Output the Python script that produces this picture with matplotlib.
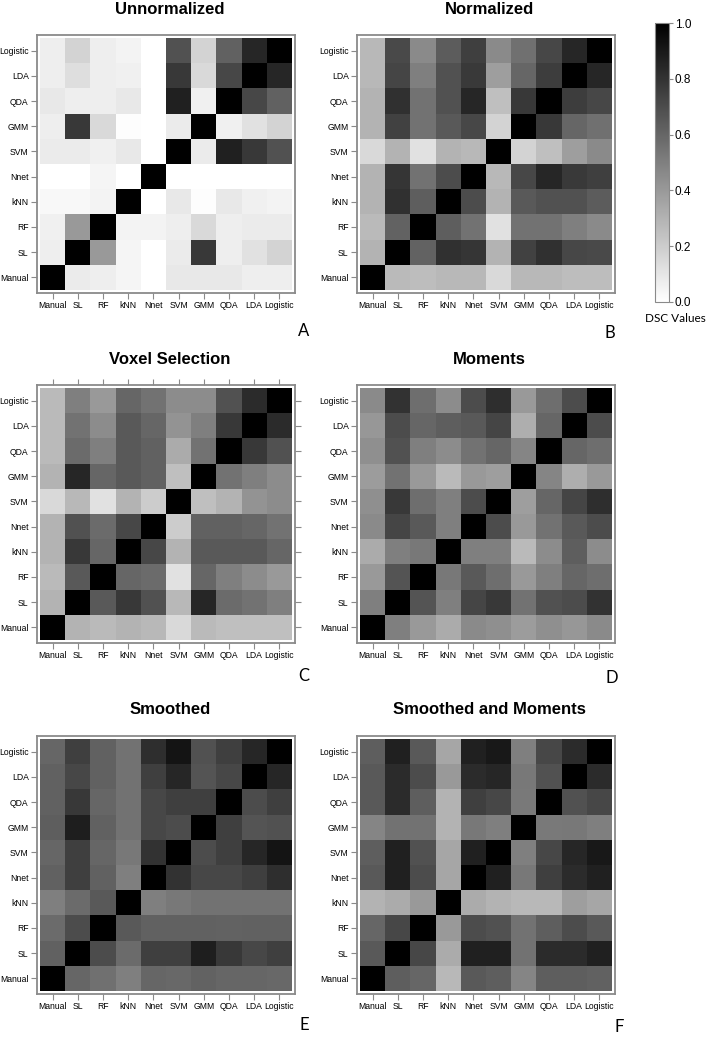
import numpy as np
import matplotlib
matplotlib.use("Agg")
import matplotlib.pyplot as plt

labels = ["Manual", "SL", "RF", "kNN", "Nnet", "SVM", "GMM", "QDA", "LDA", "Logistic"]

# rows: Manual -> Logistic (bottom to top), columns: Manual -> Logistic
unnormalized = [
    [1.00, 0.08, 0.07, 0.04, 0.00, 0.09, 0.09, 0.09, 0.07, 0.07],
    [0.07, 1.00, 0.40, 0.04, 0.00, 0.08, 0.78, 0.07, 0.12, 0.17],
    [0.06, 0.40, 1.00, 0.05, 0.05, 0.07, 0.15, 0.07, 0.08, 0.08],
    [0.03, 0.03, 0.05, 1.00, 0.00, 0.09, 0.01, 0.09, 0.06, 0.05],
    [0.00, 0.00, 0.04, 0.00, 1.00, 0.00, 0.00, 0.00, 0.00, 0.00],
    [0.08, 0.08, 0.06, 0.09, 0.00, 1.00, 0.08, 0.87, 0.78, 0.68],
    [0.07, 0.78, 0.15, 0.01, 0.00, 0.08, 1.00, 0.06, 0.12, 0.17],
    [0.09, 0.07, 0.07, 0.09, 0.00, 0.87, 0.06, 1.00, 0.72, 0.62],
    [0.07, 0.13, 0.07, 0.06, 0.00, 0.78, 0.15, 0.72, 1.00, 0.85],
    [0.07, 0.17, 0.07, 0.05, 0.00, 0.68, 0.17, 0.62, 0.85, 1.00],
]

normalized = [
    [1.00, 0.27, 0.26, 0.28, 0.28, 0.15, 0.28, 0.28, 0.26, 0.26],
    [0.30, 1.00, 0.61, 0.81, 0.79, 0.30, 0.74, 0.81, 0.72, 0.71],
    [0.27, 0.61, 1.00, 0.63, 0.55, 0.12, 0.55, 0.55, 0.50, 0.46],
    [0.30, 0.81, 0.63, 1.00, 0.70, 0.30, 0.65, 0.68, 0.68, 0.64],
    [0.30, 0.79, 0.55, 0.70, 1.00, 0.28, 0.72, 0.85, 0.77, 0.75],
    [0.15, 0.30, 0.12, 0.30, 0.28, 1.00, 0.17, 0.25, 0.38, 0.46],
    [0.30, 0.74, 0.55, 0.65, 0.72, 0.17, 1.00, 0.78, 0.60, 0.56],
    [0.30, 0.81, 0.55, 0.68, 0.85, 0.25, 0.78, 1.00, 0.76, 0.72],
    [0.28, 0.73, 0.50, 0.68, 0.77, 0.38, 0.60, 0.76, 1.00, 0.85],
    [0.28, 0.71, 0.46, 0.64, 0.75, 0.46, 0.56, 0.72, 0.85, 1.00],
]

voxel_selection = [
    [1.00, 0.30, 0.27, 0.30, 0.28, 0.15, 0.27, 0.25, 0.25, 0.25],
    [0.30, 1.00, 0.65, 0.78, 0.68, 0.28, 0.85, 0.58, 0.55, 0.50],
    [0.27, 0.65, 1.00, 0.60, 0.58, 0.12, 0.60, 0.50, 0.45, 0.40],
    [0.30, 0.78, 0.60, 1.00, 0.72, 0.30, 0.65, 0.65, 0.65, 0.60],
    [0.30, 0.68, 0.58, 0.72, 1.00, 0.20, 0.62, 0.62, 0.60, 0.55],
    [0.15, 0.28, 0.12, 0.30, 0.20, 1.00, 0.25, 0.30, 0.42, 0.45],
    [0.30, 0.85, 0.60, 0.65, 0.62, 0.25, 1.00, 0.55, 0.50, 0.45],
    [0.27, 0.58, 0.50, 0.65, 0.62, 0.33, 0.55, 1.00, 0.78, 0.68],
    [0.27, 0.55, 0.45, 0.65, 0.60, 0.42, 0.50, 0.78, 1.00, 0.83],
    [0.27, 0.50, 0.40, 0.60, 0.55, 0.45, 0.45, 0.68, 0.83, 1.00],
]

moments = [
    [1.00, 0.50, 0.40, 0.33, 0.46, 0.44, 0.39, 0.44, 0.41, 0.46],
    [0.50, 1.00, 0.67, 0.50, 0.73, 0.78, 0.55, 0.68, 0.70, 0.80],
    [0.40, 0.67, 1.00, 0.53, 0.65, 0.57, 0.40, 0.50, 0.60, 0.57],
    [0.33, 0.50, 0.53, 1.00, 0.50, 0.50, 0.27, 0.45, 0.63, 0.45],
    [0.46, 0.73, 0.65, 0.50, 1.00, 0.70, 0.40, 0.55, 0.65, 0.70],
    [0.44, 0.78, 0.57, 0.50, 0.70, 1.00, 0.38, 0.60, 0.73, 0.82],
    [0.39, 0.55, 0.40, 0.27, 0.40, 0.38, 1.00, 0.48, 0.32, 0.40],
    [0.44, 0.68, 0.50, 0.45, 0.55, 0.60, 0.48, 1.00, 0.60, 0.57],
    [0.41, 0.70, 0.60, 0.63, 0.65, 0.73, 0.32, 0.60, 1.00, 0.70],
    [0.46, 0.80, 0.57, 0.45, 0.70, 0.82, 0.40, 0.57, 0.70, 1.00],
]

smoothed = [
    [1.00, 0.60, 0.56, 0.50, 0.60, 0.59, 0.61, 0.60, 0.60, 0.59],
    [0.62, 1.00, 0.70, 0.58, 0.75, 0.75, 0.88, 0.78, 0.72, 0.75],
    [0.58, 0.70, 1.00, 0.65, 0.62, 0.62, 0.62, 0.61, 0.62, 0.62],
    [0.50, 0.58, 0.65, 1.00, 0.50, 0.53, 0.55, 0.55, 0.55, 0.55],
    [0.62, 0.75, 0.62, 0.50, 1.00, 0.80, 0.72, 0.72, 0.75, 0.82],
    [0.60, 0.75, 0.60, 0.53, 0.80, 1.00, 0.70, 0.75, 0.85, 0.92],
    [0.63, 0.88, 0.62, 0.55, 0.72, 0.70, 1.00, 0.75, 0.67, 0.68],
    [0.62, 0.78, 0.60, 0.55, 0.72, 0.75, 0.75, 1.00, 0.70, 0.75],
    [0.62, 0.72, 0.62, 0.55, 0.75, 0.85, 0.67, 0.72, 1.00, 0.85],
    [0.60, 0.75, 0.62, 0.55, 0.82, 0.92, 0.68, 0.75, 0.85, 1.00],
]

smoothed_moments = [
    [1.00, 0.63, 0.60, 0.28, 0.65, 0.63, 0.48, 0.63, 0.63, 0.62],
    [0.65, 1.00, 0.72, 0.33, 0.87, 0.87, 0.55, 0.83, 0.83, 0.87],
    [0.60, 0.72, 1.00, 0.40, 0.70, 0.68, 0.55, 0.63, 0.70, 0.65],
    [0.30, 0.33, 0.40, 1.00, 0.33, 0.30, 0.28, 0.28, 0.38, 0.35],
    [0.65, 0.87, 0.70, 0.35, 1.00, 0.87, 0.53, 0.75, 0.83, 0.87],
    [0.63, 0.87, 0.68, 0.35, 0.87, 1.00, 0.50, 0.72, 0.85, 0.90],
    [0.48, 0.55, 0.55, 0.30, 0.53, 0.50, 1.00, 0.52, 0.53, 0.50],
    [0.65, 0.83, 0.63, 0.30, 0.75, 0.72, 0.52, 1.00, 0.68, 0.72],
    [0.65, 0.83, 0.70, 0.40, 0.83, 0.85, 0.53, 0.68, 1.00, 0.83],
    [0.63, 0.87, 0.65, 0.35, 0.87, 0.90, 0.50, 0.72, 0.83, 1.00],
]

titles = ["Unnormalized", "Normalized", "Voxel Selection", "Moments",
          "Smoothed", "Smoothed and Moments"]
panel_letters = ["A", "B", "C", "D", "E", "F"]
colorbar_ticks = [0.0, 0.2, 0.4, 0.6, 0.8, 1.0]
colorbar_label = "DSC Values"

matrices = [unnormalized, normalized, voxel_selection, moments,
            smoothed, smoothed_moments]

W, H = 707, 1038
fig = plt.figure(figsize=(W / 100, H / 100), dpi=100)

def fx(px):
    return px / W

def fy(py):
    return 1 - py / H

frame_left = [37, 357]
frame_top = [35, 385, 736]
size = 258
title_cx = [170, 489]
title_cy = [9, 360, 710]
letter_pos = [(304, 331), (610, 333), (304, 676), (612, 678), (304, 1025), (619, 1027)]

edge = "#8a8a8a"
pad = 0.12
im = None
for k, mat in enumerate(matrices):
    r, c = divmod(k, 2)
    ax = fig.add_axes([fx(frame_left[c]), fy(frame_top[r] + size),
                       size / W, size / H])
    im = ax.imshow(np.array(mat), cmap="gray_r", vmin=0, vmax=1,
                   origin="lower", interpolation="nearest", aspect="auto")
    ax.set_xlim(-0.5 - pad, 9.5 + pad)
    ax.set_ylim(-0.5 - pad, 9.5 + pad)
    ax.set_xticks(range(10))
    ax.set_yticks(range(10))
    ax.set_xticklabels(labels, family="Liberation Sans")
    ax.set_yticklabels(labels, family="Liberation Sans")
    ax.tick_params(length=4, width=0.8, color=edge, labelsize=6.2, pad=2,
                   direction="out")
    if k == 2:
        ax.tick_params(top=True, right=True, labeltop=False, labelright=False)
    for sp in ax.spines.values():
        sp.set_color(edge)
        sp.set_linewidth(1.3)
    fig.text(fx(title_cx[c]), fy(title_cy[r]), titles[k], ha="center",
             va="center", fontsize=12, fontweight="bold",
             family="Liberation Sans")
    lx, ly = letter_pos[k]
    fig.text(fx(lx), fy(ly), panel_letters[k], ha="center", va="center",
             fontsize=12, family="Lato")

cax = fig.add_axes([fx(655), fy(302), 14 / W, 279 / H])
cb = fig.colorbar(im, cax=cax, ticks=colorbar_ticks)
cb.ax.set_yticklabels([f"{t:.1f}" for t in colorbar_ticks],
                      family="Liberation Sans")
cb.ax.tick_params(labelsize=8.5, length=3, width=0.8, color=edge, pad=1)
cb.outline.set_edgecolor(edge)
cb.outline.set_linewidth(0.8)
fig.text(fx(675), fy(319), colorbar_label, ha="center", va="center",
         fontsize=8.5, family="Lato")

fig.savefig("out.png", dpi=100)
